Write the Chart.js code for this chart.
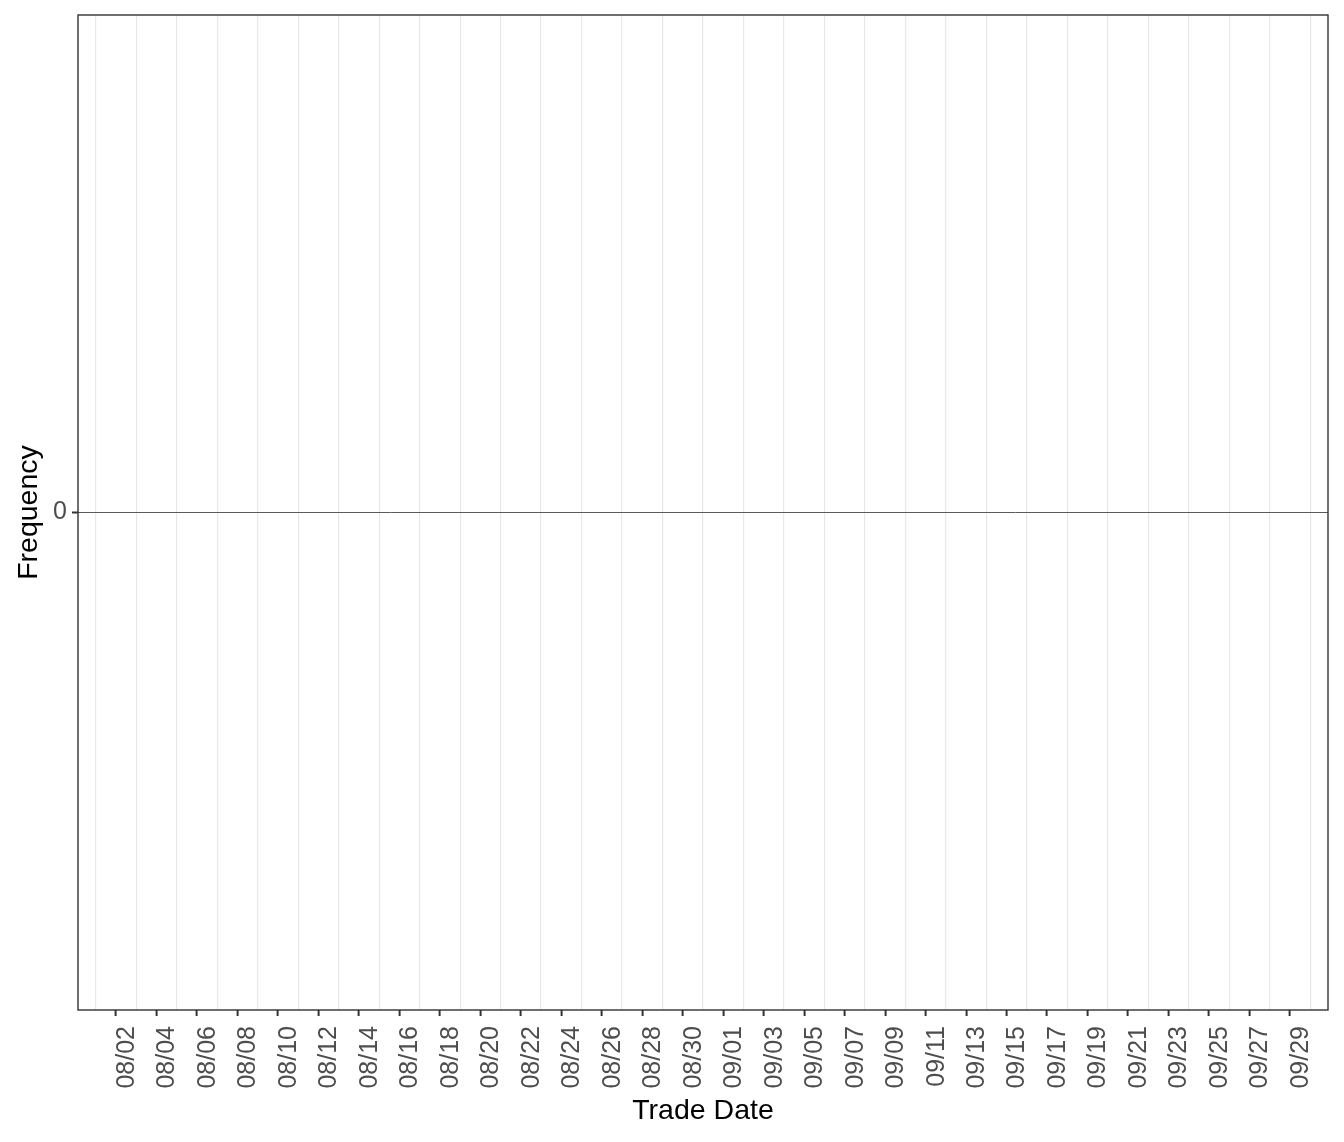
<!DOCTYPE html>
<html>
<head>
<meta charset="utf-8">
<script src="https://cdn.jsdelivr.net/npm/chart.js@4/dist/chart.umd.min.js"></script>
<style>
  body { margin: 0; background: #fff; }
  #wrap { width: 1344px; height: 1142px; }
</style>
</head>
<body>
<div id="wrap"><canvas id="freqChart" width="1344" height="1142"></canvas></div>
<script>
// tick labels along the trade date axis (every second day)
const tickLabels = ['08/02', '08/04', '08/06', '08/08', '08/10', '08/12', '08/14', '08/16',
    '08/18', '08/20', '08/22', '08/24', '08/26', '08/28', '08/30', '09/01', '09/03', '09/05',
    '09/07', '09/09', '09/11', '09/13', '09/15', '09/17', '09/19', '09/21', '09/23', '09/25',
    '09/27', '09/29'];
// frequency per trade date -- nothing was recorded in this window
const tradeDays = [];
const frequency = [];
const yTicks = [0];

const xMin = -1.88, xMax = 59.88;   // days from 08/02
const yMin = -1, yMax = 1;

const FONT = '"Liberation Sans", Arial, Helvetica, sans-serif';

function tickVal(c) {
    return (c && c.tick) ? c.tick.value : null;
}

function noPadding(scale) {
    scale.paddingLeft = 0;
    scale.paddingRight = 0;
    scale.paddingTop = 0;
    scale.paddingBottom = 0;
}

const panelBorder = {
    id: 'panelBorder',
    afterDraw(chart) {
        const { ctx, chartArea: a } = chart;
        ctx.save();
        ctx.strokeStyle = '#333333';
        ctx.lineWidth = 1.4;
        ctx.strokeRect(a.left, a.top, a.right - a.left, a.bottom - a.top);
        ctx.restore();
    }
};

const ctx = document.getElementById('freqChart').getContext('2d');
new Chart(ctx, {
    type: 'bar',
    data: {
        datasets: [{
            label: 'Frequency',
            data: tradeDays.map((d, i) => ({ x: d, y: frequency[i] })),
            backgroundColor: '#595959'
        }]
    },
    options: {
        responsive: false,
        animation: false,
        layout: { padding: { top: 15, right: 16, left: 0, bottom: 0 } },
        plugins: { legend: { display: false }, tooltip: { enabled: false } },
        scales: {
            x: {
                type: 'linear',
                min: xMin,
                max: xMax,
                offset: false,
                afterBuildTicks(scale) {
                    const t = [];
                    for (let v = -1; v <= 59; v++) t.push({ value: v });
                    scale.ticks = t;
                },
                afterFit(scale) {
                    scale.height = 132;
                    noPadding(scale);
                },
                ticks: {
                    autoSkip: false,
                    minRotation: 90,
                    maxRotation: 90,
                    padding: 10,
                    labelOffset: 11,
                    color: '#4d4d4d',
                    font: { family: FONT, size: 25 },
                    callback: v => (v >= 0 && v % 2 === 0) ? tickLabels[v / 2] : ''
                },
                grid: {
                    offset: false,
                    drawTicks: true,
                    tickLength: 6,
                    color: c => {
                        const v = tickVal(c);
                        return (v !== null && Math.abs(v) % 2 === 1) ? '#e8e8e8' : 'rgba(0,0,0,0)';
                    },
                    lineWidth: 1.2,
                    tickColor: c => {
                        const v = tickVal(c);
                        return (v !== null && v >= 0 && v % 2 === 0) ? '#333333' : 'rgba(0,0,0,0)';
                    },
                    tickWidth: 2
                },
                border: { display: false },
                title: {
                    display: true,
                    text: 'Trade Date',
                    color: '#000',
                    font: { family: FONT, size: 28.5, lineHeight: 1 },
                    padding: { top: 0, bottom: 17 }
                }
            },
            y: {
                min: yMin,
                max: yMax,
                afterBuildTicks(scale) { scale.ticks = yTicks.map(v => ({ value: v })); },
                afterFit(scale) {
                    scale.width = 78;
                    noPadding(scale);
                },
                ticks: {
                    padding: 5,
                    color: '#4d4d4d',
                    font: { family: FONT, size: 25 }
                },
                grid: {
                    drawTicks: true,
                    tickLength: 6,
                    color: '#5a5a5a',
                    lineWidth: 1,
                    tickColor: '#333333',
                    tickWidth: 2
                },
                border: { display: false },
                title: {
                    display: true,
                    text: 'Frequency',
                    color: '#000',
                    font: { family: FONT, size: 28.5, lineHeight: 1 },
                    padding: { top: 15, bottom: 0 }
                }
            }
        }
    },
    plugins: [panelBorder]
});
</script>
</body>
</html>
